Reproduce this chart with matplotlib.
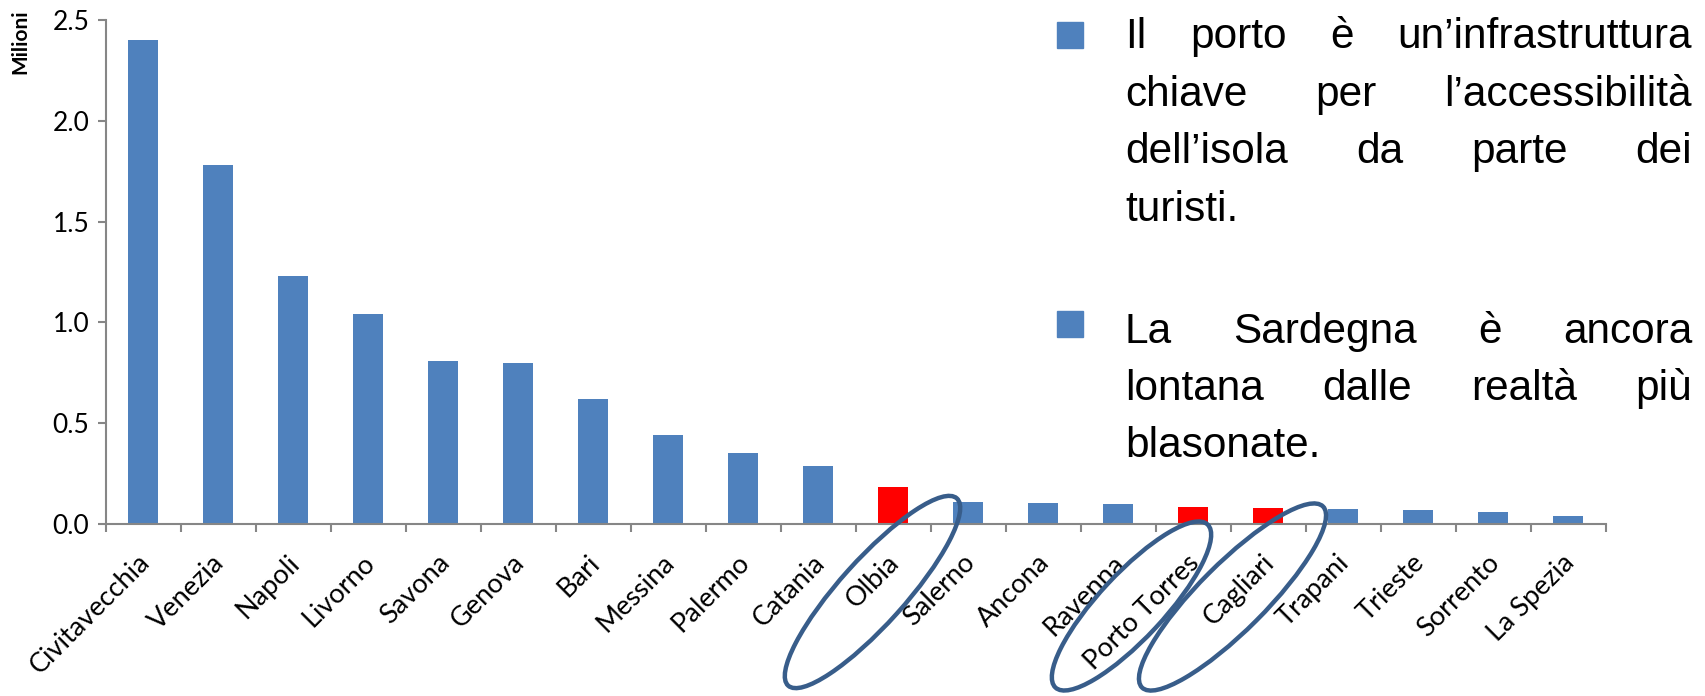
import matplotlib
matplotlib.use('Agg')
import matplotlib.pyplot as plt
import numpy as np
from matplotlib.patches import Ellipse, Rectangle
from matplotlib.transforms import IdentityTransform, ScaledTranslation

# passeggeri crocieristici per porto (milioni)
ports = ['Civitavecchia', 'Venezia', 'Napoli', 'Livorno', 'Savona', 'Genova', 'Bari',
         'Messina', 'Palermo', 'Catania', 'Olbia', 'Salerno', 'Ancona', 'Ravenna',
         'Porto Torres', 'Cagliari', 'Trapani', 'Trieste', 'Sorrento', 'La Spezia']
passengers = [2.40, 1.78, 1.23, 1.04, 0.81, 0.80, 0.62, 0.44, 0.35, 0.29, 0.185,
              0.11, 0.106, 0.098, 0.086, 0.081, 0.076, 0.068, 0.058, 0.040]
sardinia = ['Olbia', 'Porto Torres', 'Cagliari']
yticks = [0.0, 0.5, 1.0, 1.5, 2.0, 2.5]

bullet1 = [['Il', 'porto', 'è', 'un’infrastruttura'],
           ['chiave', 'per', 'l’accessibilità'],
           ['dell’isola', 'da', 'parte', 'dei'],
           ['turisti.']]
bullet2 = [['La', 'Sardegna', 'è', 'ancora'],
           ['lontana', 'dalle', 'realtà', 'più'],
           ['blasonate.']]

blue = '#4F81BD'
red = '#FF0000'
grey = '#868686'
ring_color = '#385D8A'

W, H = 1706, 696
fig = plt.figure(figsize=(W / 100, H / 100), dpi=100)
ax = fig.add_axes([106 / W, 1 - 524 / H, 1500 / W, 504 / H])

x = np.arange(len(ports))
colors = [red if p in sardinia else blue for p in ports]
ax.bar(x, passengers, width=0.4, color=colors, zorder=2)

ax.set_xlim(-0.5, len(ports) - 0.5)
ax.set_ylim(0, 2.5)
ax.set_yticks(yticks)
ax.set_yticklabels([f'{v:.1f}' for v in yticks], family='Lato', fontsize=19)
ax.set_xticks(x)
ax.set_xticklabels(ports, rotation=45, ha='right', va='center', rotation_mode='anchor',
                   family='Lato', fontsize=19.5)
ax.set_xticks(np.arange(len(ports) + 1) - 0.5, minor=True)
ax.tick_params(axis='x', which='major', length=0, pad=25)
ax.tick_params(axis='x', which='minor', length=6, width=1.5, color=grey)
ax.tick_params(axis='y', length=6, width=1.5, color=grey, pad=6)
for lbl in ax.get_xticklabels():
    lbl.set_transform(lbl.get_transform() + ScaledTranslation(0.02, 0, fig.dpi_scale_trans))

for spine in ['top', 'right']: ax.spines[spine].set_visible(False)
for spine in ['left', 'bottom']:
    ax.spines[spine].set_color(grey)
    ax.spines[spine].set_linewidth(1.5)

fig.text(20 / W, 1 - 42 / H, 'Milioni', rotation=90, family='Lato', fontweight='bold',
         fontsize=15, ha='center', va='center')

# cerchi attorno ai porti sardi
px = IdentityTransform()
rings = [('Olbia', -21, 592, 252, 65, 48),
         ('Porto Torres', -62, 606, 223, 65, 47),
         ('Cagliari', -36, 597, 256, 67, 45)]
for name, dx, cy, w, h, ang in rings:
    cx = ax.transData.transform((ports.index(name), 0))[0] + dx
    fig.add_artist(Ellipse((cx, H - cy), w, h, angle=ang, transform=px, fill=False,
                           ec=ring_color, lw=3.2, zorder=5))

# testo giustificato a destra
renderer = fig.canvas.get_renderer()
x0, x1 = 1125, 1692

def put_line(words, base):
    texts = [fig.text(0, H - base, w, transform=px, family='Liberation Sans',
                      fontsize=30.5, va='baseline', ha='left') for w in words]
    widths = [t.get_window_extent(renderer).width for t in texts]
    gap = (x1 - x0 - sum(widths)) / (len(words) - 1) if len(words) > 1 else 0
    pos = x0
    for t, wd in zip(texts, widths):
        t.set_position((pos, H - base))
        pos += wd + gap

for words, base in zip(bullet1, [48, 106, 163, 221]):
    put_line(words, base)
for words, base in zip(bullet2, [343, 400, 457]):
    put_line(words, base)

for top in [22, 311]:
    fig.add_artist(Rectangle((1057, H - top - 26), 26, 26, transform=px, color=blue))

fig.savefig('out.png', dpi=100)
